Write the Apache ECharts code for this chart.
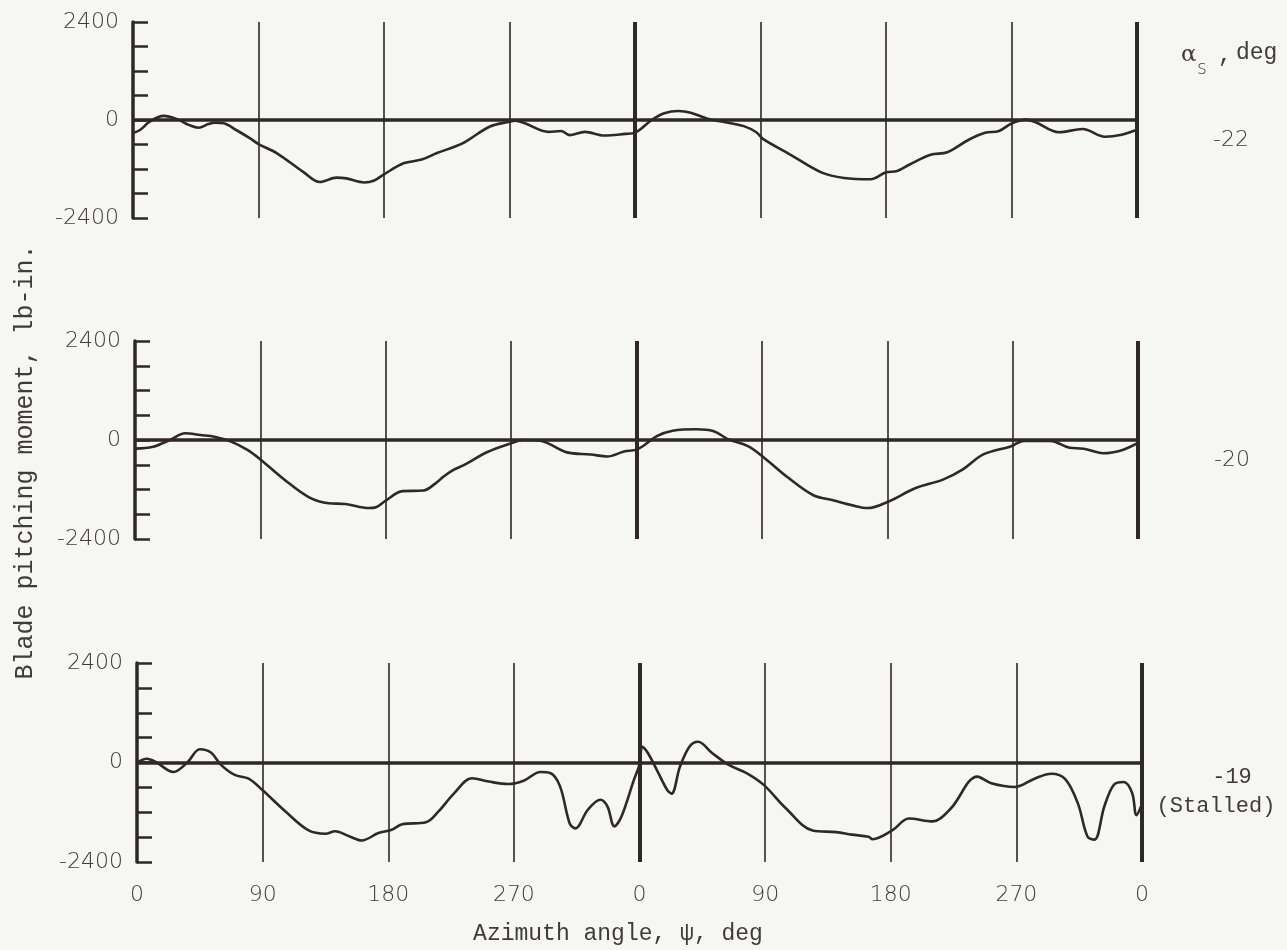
<!DOCTYPE html>
<html>
<head>
<meta charset="utf-8">
<script src="https://cdn.jsdelivr.net/npm/echarts@6/dist/echarts.min.js"></script>
<style>
  html, body { margin: 0; padding: 0; background: #f6f6f5; }
  #chart { width: 1287px; height: 950px; }
</style>
</head>
<body>
<div id="chart"></div>
<script>
// Blade pitching moment (lb-in.) over two rotor revolutions, three shaft angles.
const psiA = [0, 5, 12, 22, 32, 40, 47, 54, 59, 65, 74, 84, 90, 103, 122, 134, 146, 153, 166, 173, 180, 194, 207, 218, 231, 238, 256, 269, 274, 281, 298, 307, 313, 324, 338, 353, 360, 372, 381, 391, 400, 412, 424, 438, 447, 452, 471, 494, 510, 529, 540, 548, 557, 572, 584, 599, 611, 621, 630, 640, 647, 664, 681, 697, 709, 719, 720];
const momentA = [-320, -245, -40, 100, 15, -120, -190, -100, -65, -80, -245, -450, -590, -810, -1270, -1520, -1410, -1430, -1530, -1480, -1330, -1060, -970, -810, -650, -540, -160, -50, -20, -80, -290, -270, -370, -290, -380, -340, -310, 0, 165, 220, 180, 30, -50, -150, -300, -470, -840, -1290, -1420, -1450, -1280, -1250, -1090, -850, -790, -490, -315, -270, -85, 10, -50, -300, -220, -410, -360, -250, -230];

const psiB = [0, 13, 25, 36, 47, 57, 69, 81, 90, 108, 125, 139, 151, 168, 173, 180, 192, 207, 216, 221, 228, 236, 253, 270, 279, 291, 310, 327, 339, 351, 361, 375, 386, 403, 415, 426, 440, 452, 468, 487, 501, 515, 526, 541, 560, 580, 594, 609, 629, 638, 657, 671, 681, 695, 709, 720];
const momentB = [-210, -165, 0, 165, 120, 80, -40, -245, -470, -980, -1390, -1535, -1550, -1650, -1630, -1470, -1240, -1225, -1045, -900, -735, -610, -290, -80, 0, -20, -300, -350, -400, -280, -220, 100, 225, 260, 220, 15, -150, -440, -890, -1340, -1460, -1585, -1650, -1490, -1170, -960, -720, -350, -150, -20, -20, -190, -210, -320, -240, -70];

const psiC = [0, 7, 14, 26, 36, 45, 53, 60, 70, 80, 90, 106, 123, 135, 142, 152, 161, 173, 182, 190, 207, 216, 227, 240, 252, 266, 277, 289, 296, 303, 310, 314, 323, 332, 337, 342, 347, 356, 360, 362, 366, 373, 380, 383, 389, 396, 402, 412, 424, 437, 449, 465, 484, 501, 512, 524, 527, 541, 553, 570, 583, 602, 612, 629, 643, 655, 665, 674, 681, 686, 693, 700, 707, 713, 716, 720];
const momentC = [0, 90, 0, -230, 0, 320, 240, -50, -300, -390, -670, -1170, -1640, -1720, -1660, -1780, -1880, -1700, -1630, -1490, -1440, -1180, -750, -380, -460, -520, -440, -230, -255, -570, -1470, -1590, -1140, -900, -1060, -1540, -1310, -420, -50, 380, 230, -220, -670, -750, -100, 390, 500, 230, -60, -260, -540, -1110, -1640, -1680, -1740, -1790, -1850, -1640, -1350, -1420, -1110, -340, -500, -590, -390, -270, -400, -980, -1790, -1860, -1060, -530, -470, -740, -1270, -1000];

const shaftAngles = ['-22', '-20', '-19'];
const yTickLabels = [-2400, 0, 2400];
const revolutionEnds = [360, 720];

const ink = '#2f2828';
const textInk = '#3f3b3b';

const panels = [
  { psi: psiA, moment: momentA, top: 22, height: 196, left: 133, right: 150 },
  { psi: psiB, moment: momentB, top: 341, height: 198, left: 135, right: 149 },
  { psi: psiC, moment: momentC, top: 663, height: 199, left: 137, right: 145 }
];

const grids = [], xAxes = [], yAxes = [], series = [];

panels.forEach((p, i) => {
  grids.push({ left: p.left, right: p.right, top: p.top, height: p.height });
  xAxes.push({
    type: 'value', gridIndex: i, min: 0, max: 720, interval: 90,
    axisLine: { show: false }, axisTick: { show: false },
    splitLine: { show: true, lineStyle: { color: ink, width: 1.6 } },
    axisLabel: {
      show: i === 2, margin: 22, color: textInk, fontSize: 22,
      fontFamily: 'DejaVu Sans', fontWeight: 300,
      formatter: v => String(v % 360)
    }
  });
  yAxes.push({
    type: 'value', gridIndex: i, min: -2400, max: 2400, interval: 600,
    axisLine: { show: true, onZero: false, lineStyle: { color: ink, width: 3.5 } },
    axisTick: { show: true, inside: true, length: 15, lineStyle: { color: ink, width: 2.5 } },
    splitLine: { show: false },
    axisLabel: {
      margin: 14, color: textInk, fontSize: 22, fontFamily: 'DejaVu Sans', fontWeight: 300,
      formatter: v => (yTickLabels.indexOf(v) >= 0 ? String(v) : '')
    }
  });

  // heavy lines closing each revolution, plus the zero reference line
  const heavy = revolutionEnds.map(m => [
    { coord: [m, -2400], lineStyle: { color: ink, width: 4, type: 'solid' } },
    { coord: [m, 2400] }
  ]);
  const baseline = [
    { coord: [0, 0], lineStyle: { color: ink, width: 3.5, type: 'solid' } },
    { coord: [720, 0] }
  ];

  series.push({
    type: 'line', xAxisIndex: i, yAxisIndex: i,
    data: p.psi.map((x, k) => [x, p.moment[k]]),
    showSymbol: false, smooth: 0.35, clip: false,
    lineStyle: { color: ink, width: 2.6 },
    markLine: {
      silent: true, symbol: ['none', 'none'], label: { show: false },
      animation: false,
      data: heavy.concat([baseline])
    },
    z: 3
  });
});

const labelFont = 'Liberation Mono, DejaVu Sans Mono, monospace';

function label(x, y, text, font, align) {
  return {
    type: 'text', x: x, y: y,
    style: { text: text, font: font, fill: textInk, textAlign: align || 'center', textVerticalAlign: 'middle' }
  };
}

const graphic = [
  {
    type: 'text', x: 25, y: 462, rotation: Math.PI / 2,
    style: { text: 'Blade pitching moment, lb-in.', font: '25px ' + labelFont, fill: textInk, textAlign: 'center', textVerticalAlign: 'middle' }
  },
  label(618, 934, 'Azimuth angle, \u03c8, deg', '23px ' + labelFont),
  // shaft angle column heading
  label(1181, 55, '\u03b1', '23px DejaVu Serif', 'left'),
  label(1197, 69, 's', '300 19px DejaVu Sans', 'left'),
  label(1225, 56, ',', '23px ' + labelFont),
  label(1236, 53, 'deg', '23px ' + labelFont, 'left'),
  label(1231, 140, shaftAngles[0], '300 22px DejaVu Sans'),
  label(1232, 460, shaftAngles[1], '300 22px DejaVu Sans'),
  label(1232, 777, shaftAngles[2], '22px ' + labelFont),
  label(1216, 806, '(Stalled)', '22px ' + labelFont)
];

const chart = echarts.init(document.getElementById('chart'), null, { renderer: 'canvas' });
chart.setOption({
  backgroundColor: '#f6f6f5',
  animation: false,
  grid: grids,
  xAxis: xAxes,
  yAxis: yAxes,
  series: series,
  graphic: graphic
});
</script>
</body>
</html>
